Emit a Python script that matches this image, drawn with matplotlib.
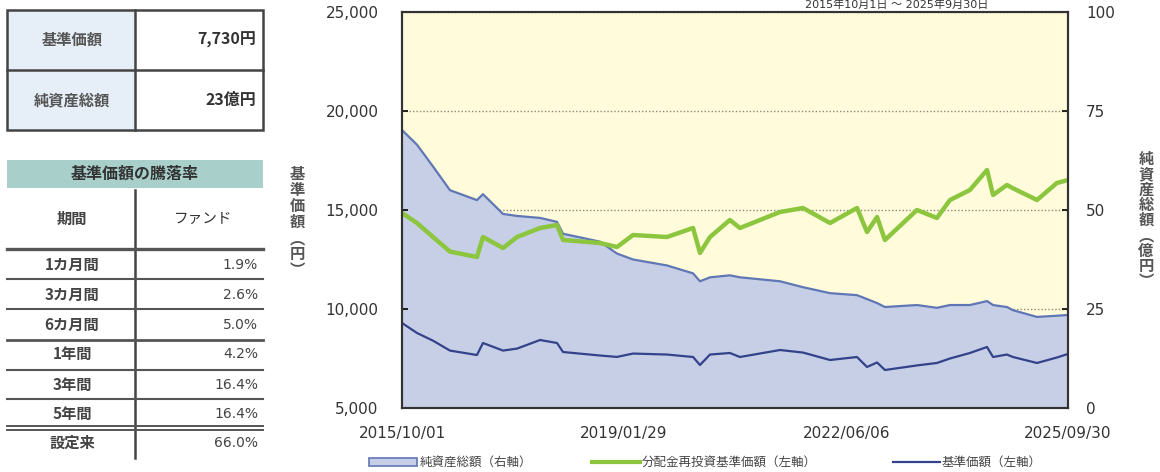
import matplotlib
matplotlib.use("Agg")
import matplotlib.pyplot as plt
from matplotlib.patches import Rectangle
from matplotlib.lines import Line2D
from matplotlib.ticker import FuncFormatter
import pandas as pd

plt.rcParams["font.family"] = ["DejaVu Sans", "Noto Sans CJK JP"]

# data
dates = ["2015-10-01", "2015-12-22", "2016-03-19", "2016-06-20", "2016-11-15",
         "2016-12-18", "2017-04-07", "2017-06-23", "2017-10-27", "2018-01-28",
         "2018-03-02", "2018-09-21", "2018-12-23", "2019-03-21", "2019-09-23",
         "2020-02-13", "2020-03-22", "2020-05-16", "2020-09-02", "2020-10-27",
         "2021-06-04", "2021-10-08", "2022-03-05", "2022-07-31", "2022-09-24",
         "2022-11-18", "2022-12-31", "2023-06-25", "2023-10-12", "2023-12-23",
         "2024-04-10", "2024-07-13", "2024-08-15", "2024-10-30", "2024-12-02",
         "2025-04-13", "2025-07-31", "2025-09-30"]

net_assets = [70.2, 66.5, 61, 55, 52.5, 54, 49, 48.5, 48, 47,
              44, 42, 39, 37.5, 36, 34, 32, 33, 33.5, 33,
              32, 30.5, 29, 28.5, 27.5, 26.5, 25.5, 26, 25.3, 26,
              26, 27, 26, 25.5, 24.7, 23, 23.3, 23.5]

nav = [9293, 8790, 8400, 7900, 7676, 8283, 7900, 8000, 8434, 8283,
       7828, 7650, 7580, 7750, 7700, 7576, 7172, 7700, 7778, 7576,
       7929, 7800, 7424, 7576, 7071, 7300, 6919, 7150, 7273, 7500,
       7778, 8081, 7576, 7700, 7576, 7273, 7550, 7730]

nav_reinvest = [14848, 14343, 13636, 12900, 12626, 13636, 13081, 13636, 14091, 14242,
                13485, 13333, 13131, 13737, 13636, 14091, 12828, 13636, 14495, 14091,
                14899, 15101, 14343, 15101, 13889, 14646, 13485, 15000, 14596, 15505,
                16010, 17020, 15758, 16263, 16100, 15505, 16364, 16515]

xtick_dates = ["2015-10-01", "2019-01-29", "2022-06-06", "2025-09-30"]
xtick_labels = ["2015/10/01", "2019/01/29", "2022/06/06", "2025/09/30"]

summary_labels = ["基準価額", "純資産総額"]
summary_values = ["7,730円", "23億円"]

periods = ["1カ月間", "3カ月間", "6カ月間", "1年間", "3年間", "5年間", "設定来"]
returns = ["1.9%", "2.6%", "5.0%", "4.2%", "16.4%", "16.4%", "66.0%"]

dates = pd.to_datetime(dates)
W, H = 1160, 472


def fx(x):
    return x / W


def fy(y):
    return 1 - y / H


fig = plt.figure(figsize=(11.6, 4.72), dpi=100)

# main chart
ax2 = fig.add_axes([fx(402), fy(408), fx(1068) - fx(402), fy(12) - fy(408)])
ax = ax2.twinx()
ax.yaxis.tick_left()
ax.yaxis.set_label_position("left")
ax2.yaxis.tick_right()
ax.set_zorder(ax2.get_zorder() + 1)
ax.patch.set_visible(False)
ax2.set_facecolor("#fffbdb")

ax2.fill_between(dates, 0, net_assets, facecolor="#c6cfe6", edgecolor="none", zorder=2)
ax2.plot(dates, net_assets, color="#6077b5", lw=1.6, zorder=3)
ax2.set_ylim(0, 100)
ax2.set_yticks([0, 25, 50, 75, 100])
ax2.set_axisbelow(True)
ax2.grid(axis="y", linestyle=(0, (1, 1.5)), color="#8c8a78", lw=1.0)

ax.plot(dates, nav_reinvest, color="#8cc63f", lw=3.2)
ax.plot(dates, nav, color="#33428a", lw=1.6)
ax.set_ylim(5000, 25000)
ax.set_yticks([5000, 10000, 15000, 20000, 25000])
ax.yaxis.set_major_formatter(FuncFormatter(lambda v, p: f"{int(v):,}"))

ax.set_xlim(dates[0], dates[-1])
ax2.set_xticks(pd.to_datetime(xtick_dates))
ax2.set_xticklabels(xtick_labels)

for a in (ax, ax2):
    for s in a.spines.values():
        s.set_color("#333333")
        s.set_linewidth(1.5)
ax.tick_params(axis="y", direction="in", length=4, width=1.2, pad=17,
               labelsize=11, labelcolor="#333333")
ax2.tick_params(axis="y", direction="in", length=4, width=1.2, pad=13,
                labelsize=11, labelcolor="#333333")
ax2.tick_params(axis="x", direction="in", length=4, width=1.2, pad=13,
                labelsize=11, labelcolor="#333333")
ax.tick_params(axis="x", bottom=False, labelbottom=False)

# axis titles (vertical stacked)
fig.text(fx(297), fy(222), "\n".join("基準価額︵円︶"), ha="center", va="center",
         fontsize=11, fontweight="bold", color="#555555", linespacing=1.0,
         family=["Noto Sans CJK JP"])
fig.text(fx(1146), fy(220), "\n".join("純資産総額︵億円︶"), ha="center", va="center",
         fontsize=11, fontweight="bold", color="#555555", linespacing=0.95,
         family=["Noto Sans CJK JP"])

# period title (sits at the very top)
fig.text(fx(897), fy(5), "2015年10月1日 ～ 2025年9月30日", ha="center", va="center",
         fontsize=8, color="#333333")

# legend
ly = fy(462)
fig.add_artist(Rectangle((fx(369), fy(466)), fx(48), fy(458) - fy(466),
                         transform=fig.transFigure, facecolor="#c6cfe6",
                         edgecolor="#6077b5", lw=1.2))
fig.text(fx(420), ly, "純資産総額（右軸）", va="center", fontsize=9, color="#444444")
fig.add_artist(Line2D([fx(592), fx(640)], [ly, ly], transform=fig.transFigure,
                      color="#8cc63f", lw=3))
fig.text(fx(642), ly, "分配金再投資基準価額（左軸）", va="center", fontsize=9, color="#444444")
fig.add_artist(Line2D([fx(893), fx(940)], [ly, ly], transform=fig.transFigure,
                      color="#33428a", lw=1.6))
fig.text(fx(942), ly, "基準価額（左軸）", va="center", fontsize=9, color="#444444")

# summary table
line_c = "#444444"
for i, (lab, val) in enumerate(zip(summary_labels, summary_values)):
    top = 10 + i * 60
    fig.add_artist(Rectangle((fx(7), fy(top + 60)), fx(128), fy(top) - fy(top + 60),
                             transform=fig.transFigure, facecolor="#e6eef7",
                             edgecolor="none"))
    fig.text(fx(72), fy(top + 30), lab, ha="center", va="center", fontsize=11,
             fontweight="bold", color="#555555", family=["Noto Sans CJK JP"])
    fig.text(fx(256), fy(top + 30), val, ha="right", va="center", fontsize=11.5,
             fontweight="bold", color="#333333", family=["Noto Sans CJK JP"])
fig.add_artist(Rectangle((fx(7), fy(130)), fx(256), fy(10) - fy(130),
                         transform=fig.transFigure, facecolor="none",
                         edgecolor=line_c, lw=1.8))
fig.add_artist(Line2D([fx(135), fx(135)], [fy(10), fy(130)], transform=fig.transFigure,
                      color=line_c, lw=1.8))
fig.add_artist(Line2D([fx(7), fx(263)], [fy(70), fy(70)], transform=fig.transFigure,
                      color=line_c, lw=1.8))

# return table
fig.add_artist(Rectangle((fx(7), fy(188)), fx(256), fy(160) - fy(188),
                         transform=fig.transFigure, facecolor="#a8cfca",
                         edgecolor="none"))
fig.text(fx(135), fy(174), "基準価額の騰落率", ha="center", va="center", fontsize=11.5,
         fontweight="bold", color="#333333", family=["Noto Sans CJK JP"])
fig.add_artist(Line2D([fx(135), fx(135)], [fy(190), fy(458)], transform=fig.transFigure,
                      color=line_c, lw=1.8))
fig.text(fx(72), fy(219), "期間", ha="center", va="center", fontsize=11,
         fontweight="bold", color="#444444", family=["Noto Sans CJK JP"])
fig.text(fx(203), fy(219), "ファンド", ha="center", va="center", fontsize=10.5,
         color="#333333", family=["Noto Sans CJK JP"])

row_lines = [249, 279, 309, 340, 370, 399]
row_widths = [2.4, 1.5, 1.5, 2.0, 1.5, 1.5]
for yl, lw in zip(row_lines, row_widths):
    fig.add_artist(Line2D([fx(7), fx(263)], [fy(yl), fy(yl)], transform=fig.transFigure,
                          color="#555555", lw=lw))
for yl in (426, 430):
    fig.add_artist(Line2D([fx(7), fx(263)], [fy(yl), fy(yl)], transform=fig.transFigure,
                          color="#555555", lw=1.4))

row_centers = [265, 295, 325, 354, 385, 414, 443]
for yc, per, ret in zip(row_centers, periods, returns):
    fig.text(fx(72), fy(yc), per, ha="center", va="center", fontsize=11,
             fontweight="bold", color="#444444", family=["Noto Sans CJK JP"])
    fig.text(fx(258), fy(yc), ret, ha="right", va="center", fontsize=10,
             color="#444444")

fig.savefig("out.png", dpi=100)
